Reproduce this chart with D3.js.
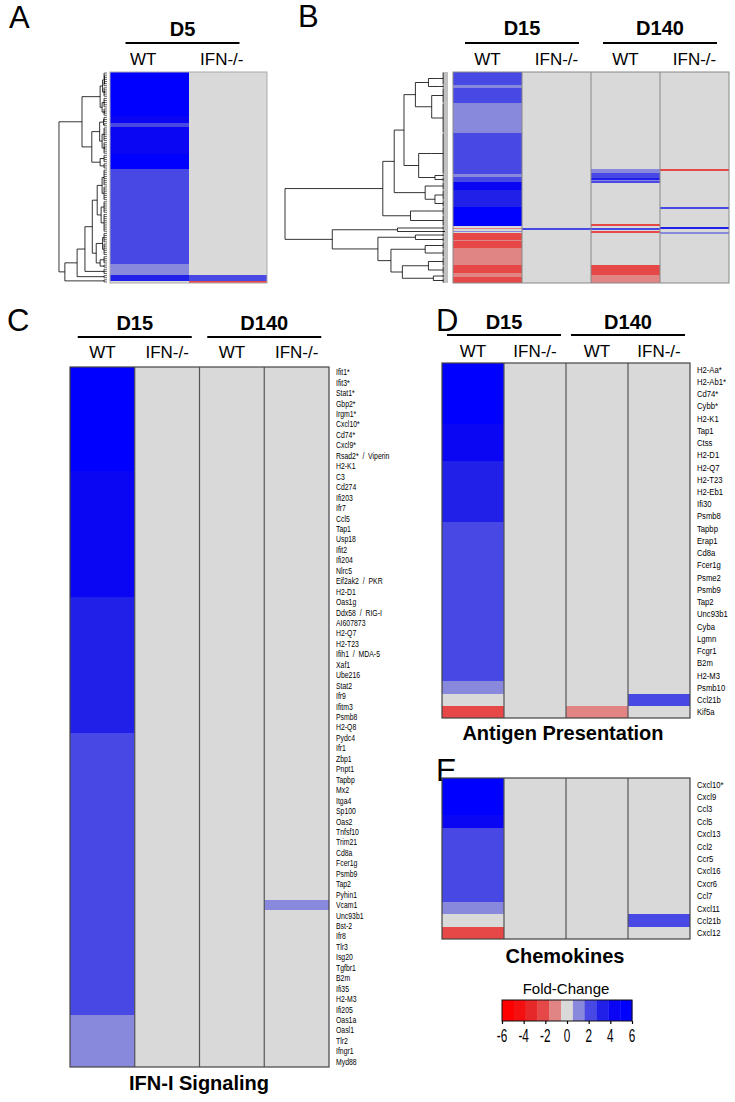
<!DOCTYPE html>
<html><head><meta charset="utf-8">
<script src="https://cdn.jsdelivr.net/npm/d3@7"></script>
<style>
body{margin:0;background:#fff}
svg{display:block}
text{font-family:Arial,"Liberation Sans",Helvetica,sans-serif;fill:#000}
</style>
</head><body>
<svg id="fig" width="735" height="1102"></svg>
<script>
// ---------------- DATA ----------------
const legendTicks = [-6, -4, -2, 0, 2, 4, 6];
const legendColors = ["#ff0000","#f41010","#e62828","#e64848","#e08484","#d9d9d9","#8888dd","#4848e4","#2020e8","#0a06f4","#0000ff"];
const timesA = ["D5"];
const timesB = ["D15", "D140"];
const genotypes = ["WT", "IFN-/-"];

// Panel A: run-length columns [rows, fold-change]
const aWT = [[21,5.8],[3,4.6],[2,2.4],[13,4.6],[7,5.8],[45,2.4],[5,1.2],[3,3.5],[1,0]];
const aKO = [[96,0],[3,2.4],[1,-2.6]];
// Panel A dendrogram: [height, children...], leaf = number of rows
const aTree = [98,
  [51,
    [14, [9, [5, 4, 3], [4, 5]], [10, [5, 5], [4, 4]]],
    [31, [15, [7, 3, 2], [10, [5, 7], [4, 6]]], [14, 4, 3]]
  ],
  [86, [61, [45, [30, [20, [10, 8, 7], [12, 6, 9]], [22, [9, 5, 6], [14, 4, 2]]], 3], 2], 2]
];

// Panel B: run-length columns
const bWT15 = [[13,2.4],[3,1.2],[15,2.4],[30,1.2],[41,2.4],[3,1.2],[5,2.4],[8,4.6],[17,3.5],[19,5.8],[2,0],[1,-1.2],[2,0],[1,1.2],[1,0],[7,-2.6],[1,-1.2],[7,-2.6],[17,-1.2],[8,-2.6],[4,-1.2],[6,-2.6]];
const bKO15 = [[156,0],[2,2.4],[53,0]];
const bWT140 = [[97,0],[4,1.2],[5,2.4],[2,3.5],[1,1.2],[2,2.4],[41,0],[2,-2.6],[2,0],[2,2.4],[1,0],[2,-2.6],[32,0],[10,-2.6],[8,-1.2]];
const bKO140 = [[97,0],[2,-2.6],[36,0],[2,2.4],[18,0],[2,3.5],[3,0],[2,1.2],[49,0]];
const bTree = [100,
  [40,
    [33,
      [27, [20, [12, [6, 13], [5, 3]], [10, 15, [6, 30]]], [18, [10, 41], [8, 3, 5]]],
      [14, [6, 8], [8, 10, 7]]
    ],
    [23, [10, 8], 11]
  ],
  [71,
    [31, [3, 4], [2, 3]],
    [43, [20, 4, 5], [35, [14, 7, 8], [28, [12, 9, 8], [9, 4, 5]]]]
  ]
];

// Panel C: IFN-I Signaling
const cGenes = ["Ifit1*","Ifit3*","Stat1*","Gbp2*","Irgm1*","Cxcl10*","Cd74*","Cxcl9*","Rsad2* / Viperin","H2-K1","C3","Cd274","Ifi203","Ifr7","Ccl5","Tap1","Usp18","Ifit2","Ifi204","Nlrc5","Eif2ak2 / PKR","H2-D1","Oas1g","Ddx58 / RIG-I","AI607873","H2-Q7","H2-T23","Ifih1 / MDA-5","Xaf1","Ube216","Stat2","Ifr9","Ifitm3","Psmb8","H2-Q8","Pydc4","Ifr1","Zbp1","Pnpt1","Tapbp","Mx2","Itga4","Sp100","Oas2","Tnfsf10","Trim21","Cd8a","Fcer1g","Psmb9","Tap2","Pyhin1","Vcam1","Unc93b1","Bst-2","Ifr8","Tlr3","Isg20","Tgfbr1","B2m","Ifi35","H2-M3","Ifi205","Oas1a","Oasl1","Tlr2","Ifngr1","Myd88"];
const cWT15 = [5.8,5.8,5.8,5.8,5.8,5.8,5.8,5.8,5.8,5.8,
  4.6,4.6,4.6,4.6,4.6,4.6,4.6,4.6,4.6,4.6,4.6,4.6,
  3.5,3.5,3.5,3.5,3.5,3.5,3.5,3.5,3.5,3.5,3.5,3.5,3.5,
  2.4,2.4,2.4,2.4,2.4,2.4,2.4,2.4,2.4,2.4,2.4,2.4,2.4,2.4,2.4,2.4,2.4,2.4,2.4,2.4,2.4,2.4,2.4,2.4,2.4,2.4,2.4,
  1.2,1.2,1.2,1.2,1.2];
const cKO15 = [0,0,0,0,0,0,0,0,0,0, 0,0,0,0,0,0,0,0,0,0, 0,0,0,0,0,0,0,0,0,0, 0,0,0,0,0,0,0,0,0,0, 0,0,0,0,0,0,0,0,0,0, 0,0,0,0,0,0,0,0,0,0, 0,0,0,0,0,0,0];
const cWT140 = [0,0,0,0,0,0,0,0,0,0, 0,0,0,0,0,0,0,0,0,0, 0,0,0,0,0,0,0,0,0,0, 0,0,0,0,0,0,0,0,0,0, 0,0,0,0,0,0,0,0,0,0, 0,0,0,0,0,0,0,0,0,0, 0,0,0,0,0,0,0];
const cKO140 = [0,0,0,0,0,0,0,0,0,0, 0,0,0,0,0,0,0,0,0,0, 0,0,0,0,0,0,0,0,0,0, 0,0,0,0,0,0,0,0,0,0, 0,0,0,0,0,0,0,0,0,0, 0,1.2,0,0,0,0,0,0,0,0, 0,0,0,0,0,0,0];

// Panel D: Antigen Presentation
const dGenes = ["H2-Aa*","H2-Ab1*","Cd74*","Cybb*","H2-K1","Tap1","Ctss","H2-D1","H2-Q7","H2-T23","H2-Eb1","Ifi30","Psmb8","Tapbp","Erap1","Cd8a","Fcer1g","Psme2","Psmb9","Tap2","Unc93b1","Cyba","Lgmn","Fcgr1","B2m","H2-M3","Psmb10","Ccl21b","Kif5a"];
const dWT15 = [5.8,5.8,5.8,5.8,5.8,4.6,4.6,4.6,3.5,3.5,3.5,3.5,3.5,2.4,2.4,2.4,2.4,2.4,2.4,2.4,2.4,2.4,2.4,2.4,2.4,2.4,1.2,0,-2.6];
const dKO15 = [0,0,0,0,0,0,0,0,0,0,0,0,0,0,0,0,0,0,0,0,0,0,0,0,0,0,0,0,0];
const dWT140 = [0,0,0,0,0,0,0,0,0,0,0,0,0,0,0,0,0,0,0,0,0,0,0,0,0,0,0,0,-1.2];
const dKO140 = [0,0,0,0,0,0,0,0,0,0,0,0,0,0,0,0,0,0,0,0,0,0,0,0,0,0,0,2.4,0];

// Panel E: Chemokines
const eGenes = ["Cxcl10*","Cxcl9","Ccl3","Ccl5","Cxcl13","Ccl2","Ccr5","Cxcl16","Cxcr6","Ccl7","Cxcl11","Ccl21b","Cxcl12"];
const eWT15 = [5.8,5.8,5.8,4.6,2.4,2.4,2.4,2.4,2.4,2.4,1.2,0,-2.6];
const eKO15 = [0,0,0,0,0,0,0,0,0,0,0,0,0];
const eWT140 = [0,0,0,0,0,0,0,0,0,0,0,0,0];
const eKO140 = [0,0,0,0,0,0,0,0,0,0,0,2.4,0];

// ---------------- DRAWING ----------------
const svg = d3.select("#fig");
const color = d3.scaleQuantize().domain([-6, 6]).range(legendColors);

function panelLetter(t, x, y) {
  svg.append("text").attr("x", x).attr("y", y).attr("font-size", 31).text(t);
}

// run-length heatmap (A, B)
function runHeat(cols, x0, x1, y0, y1, sepColor, borderColor) {
  const g = svg.append("g");
  const n = d3.sum(cols[0], d => d[0]);
  const x = d3.scaleBand().domain(d3.range(cols.length)).range([x0, x1]);
  const y = d3.scaleLinear().domain([0, n]).range([y0, y1]);
  cols.forEach((runs, ci) => {
    const starts = [0, ...d3.cumsum(runs, d => d[0])];
    g.selectAll(null).data(runs).join("rect")
      .attr("x", x(ci)).attr("width", x.bandwidth())
      .attr("y", (d, i) => Math.round(y(starts[i])))
      .attr("height", (d, i) => Math.max(1, Math.round(y(starts[i] + d[0])) - Math.round(y(starts[i]))))
      .attr("fill", d => color(d[1]))
      .attr("shape-rendering", "crispEdges");
  });
  if (sepColor) {
    for (let ci = 1; ci < cols.length; ci++) {
      g.append("line").attr("x1", x(ci)).attr("x2", x(ci)).attr("y1", y0).attr("y2", y1)
        .attr("stroke", sepColor).attr("stroke-width", 1);
    }
  }
  g.append("rect").attr("x", x0).attr("y", y0).attr("width", x1 - x0).attr("height", y1 - y0)
    .attr("fill", "none").attr("stroke", borderColor).attr("stroke-width", 1);
  return { x, y, n };
}

// gene heatmap (C, D, E)
function geneHeat(cols, genes, x0, x1, y0, y1, labelSize, labelScale) {
  const g = svg.append("g");
  const x = d3.scaleBand().domain(d3.range(cols.length)).range([x0, x1]);
  const y = d3.scaleBand().domain(genes).range([y0, y1]);
  cols.forEach((vals, ci) => {
    g.selectAll(null).data(vals).join("rect")
      .attr("x", x(ci)).attr("width", x.bandwidth())
      .attr("y", (d, i) => Math.round(y(genes[i])))
      .attr("height", (d, i) => Math.round(y(genes[i]) + y.bandwidth()) - Math.round(y(genes[i])))
      .attr("fill", d => color(d))
      .attr("shape-rendering", "crispEdges");
  });
  for (let ci = 1; ci < cols.length; ci++) {
    g.append("line").attr("x1", x(ci)).attr("x2", x(ci)).attr("y1", y0).attr("y2", y1)
      .attr("stroke", "#555").attr("stroke-width", 1.2);
  }
  g.append("rect").attr("x", x0).attr("y", y0).attr("width", x1 - x0).attr("height", y1 - y0)
    .attr("fill", "none").attr("stroke", "#444").attr("stroke-width", 1.2);
  g.selectAll(null).data(genes).join("text")
    .attr("transform", d => `translate(${x1 + 7},${y(d) + y.bandwidth() / 2}) scale(${labelScale},1)`)
    .attr("dy", "0.36em").attr("font-size", labelSize)
    .style("white-space", "pre")
    .text(d => d.replace(" / ", "  /  "));
  return { x, y };
}

function header(x, times, gBase, lineY, cBase, dx) {
  const g = svg.append("g");
  times.forEach((t, ti) => {
    const c0 = x(ti * 2), c1 = x(ti * 2 + 1) + x.bandwidth();
    const cx = (c0 + c1) / 2 + (dx || 0);
    g.append("text").attr("x", cx).attr("y", gBase).attr("text-anchor", "middle")
      .attr("font-size", 20).attr("font-weight", "bold").text(t);
    g.append("line").attr("x1", cx - 57).attr("x2", cx + 57).attr("y1", lineY).attr("y2", lineY)
      .attr("stroke", "#000").attr("stroke-width", 2);
    genotypes.forEach((gt, gi) => {
      const ci = ti * 2 + gi;
      g.append("text").attr("x", x(ci) + x.bandwidth() / 2 + (dx || 0)).attr("y", cBase)
        .attr("text-anchor", "middle").attr("font-size", 17).text(gt);
    });
  });
}

function dendro(tree, rowCenter, xEdge, width, leafH, combWidth) {
  const xh = d3.scaleLinear().domain([0, 100]).range([xEdge, xEdge - width]);
  const root = d3.hierarchy(tree, d => Array.isArray(d) ? d.slice(1) : null);
  let r = 0;
  root.leaves().forEach(l => { l.r0 = r; r += l.data; });
  root.eachAfter(n => {
    if (!n.children) {
      n.h = leafH;
      n.yc = (rowCenter(n.r0) + rowCenter(n.r0 + n.data - 1)) / 2;
    } else {
      n.h = n.data[0];
      n.yc = (n.children[0].yc + n.children[n.children.length - 1].yc) / 2;
    }
  });
  const p = d3.path(), q = d3.path();
  root.each(n => {
    if (n.children) {
      const f = n.children[0], l = n.children[n.children.length - 1];
      p.moveTo(xh(n.h), f.yc); p.lineTo(xh(n.h), l.yc);
      n.children.forEach(c => { p.moveTo(xh(n.h), c.yc); p.lineTo(xh(c.h), c.yc); });
    } else {
      p.moveTo(xh(n.h), rowCenter(n.r0)); p.lineTo(xh(n.h), rowCenter(n.r0 + n.data - 1));
      for (let i = n.r0; i < n.r0 + n.data; i++) {
        q.moveTo(xh(n.h), rowCenter(i)); q.lineTo(xh(0), rowCenter(i));
      }
    }
  });
  svg.append("path").attr("d", p.toString()).attr("fill", "none")
    .attr("stroke", "#000").attr("stroke-width", 0.8);
  svg.append("path").attr("d", q.toString()).attr("fill", "none")
    .attr("stroke", "#000").attr("stroke-width", combWidth);
}

// ---- Panel A ----
panelLetter("A", 9, 28);
const A = runHeat([aWT, aKO], 110, 267, 72, 283, null, "#aaa");
header(A.x, timesA, 36, 43, 65, -6);
dendro(aTree, i => A.y(i + 0.5), 107, 49, 6, 0.6);

// ---- Panel B ----
panelLetter("B", 298, 27);
const B = runHeat([bWT15, bKO15, bWT140, bKO140], 453, 729, 72, 283, "#888", "#888");
header(B.x, timesB, 35, 43, 65, 0);
dendro(bTree, i => B.y(i + 0.5), 448, 163, 3, 0.25);

// ---- Panel C ----
panelLetter("C", 7, 331);
const C = geneHeat([cWT15, cKO15, cWT140, cKO140], cGenes, 70, 329, 367, 1067, 8.4, 0.82);
header(C.x, timesB, 330, 337, 358, 0);
svg.append("text").attr("x", 199).attr("y", 1090).attr("text-anchor", "middle")
  .attr("font-size", 20).attr("font-weight", "bold").text("IFN-I Signaling");

// ---- Panel D ----
panelLetter("D", 436, 331);
const D = geneHeat([dWT15, dKO15, dWT140, dKO140], dGenes, 442, 690, 363, 718, 9.6, 0.8);
header(D.x, timesB, 329, 335, 357, 0);
svg.append("text").attr("x", 563).attr("y", 740).attr("text-anchor", "middle")
  .attr("font-size", 20).attr("font-weight", "bold").text("Antigen Presentation");

// ---- Panel E ----
panelLetter("E", 436, 781);
geneHeat([eWT15, eKO15, eWT140, eKO140], eGenes, 442, 690, 778, 939, 9.6, 0.8);
svg.append("text").attr("x", 565).attr("y", 963).attr("text-anchor", "middle")
  .attr("font-size", 20).attr("font-weight", "bold").text("Chemokines");

// ---- Legend ----
const lg = svg.append("g");
lg.append("text").attr("x", 566).attr("y", 994).attr("text-anchor", "middle")
  .attr("font-size", 15).text("Fold-Change");
const lx = d3.scaleLinear().domain([-6, 6]).range([502, 632]);
const lb = d3.scaleBand().domain(d3.range(legendColors.length)).range([502, 632]);
lg.selectAll(null).data(legendColors).join("rect")
  .attr("x", (d, i) => lb(i)).attr("width", lb.bandwidth() + 0.3)
  .attr("y", 1000).attr("height", 21).attr("fill", d => d);
lg.append("rect").attr("x", 502).attr("y", 1000).attr("width", 130).attr("height", 21)
  .attr("fill", "none").attr("stroke", "#111").attr("stroke-width", 1);
const ax = lg.append("g").attr("transform", "translate(0,1021)")
  .call(d3.axisBottom(lx).tickValues(legendTicks).tickSize(3).tickFormat(""));
ax.select(".domain").remove();
ax.selectAll(".tick line").attr("stroke", "#000").attr("stroke-width", 1.2);
lg.selectAll(null).data(legendTicks).join("text")
  .attr("transform", d => `translate(${lx(d)},1042) scale(0.62,1)`)
  .attr("text-anchor", "middle")
  .style("font-size", "19px")
  .style("font-family", "Arial, 'Liberation Sans', sans-serif")
  .text(d => String(d));
</script>
</body></html>
